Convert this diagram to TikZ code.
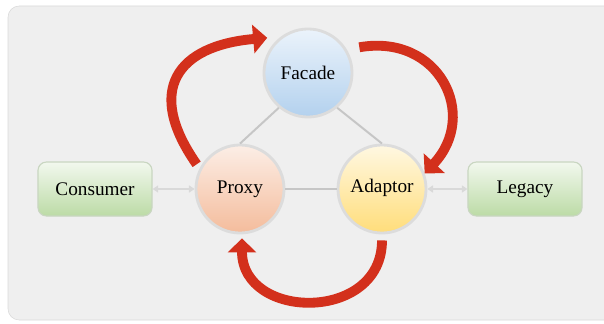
\documentclass[tikz,border=0pt]{standalone}
\usepackage{fontspec}
\setmainfont{Liberation Serif}
\usepackage{xcolor}
\usetikzlibrary{arrows.meta}

\definecolor{panel}{HTML}{EFEFEF}
\definecolor{panelrim}{HTML}{D9D9D9}
\definecolor{ring}{HTML}{DCDCDC}
\definecolor{redflow}{HTML}{D3301C}
\definecolor{greentop}{HTML}{F2F8EE}
\definecolor{greenbot}{HTML}{BCDBA6}
\definecolor{blockrim}{HTML}{C9D6C1}
\definecolor{bluetop}{HTML}{EBF3FB}
\definecolor{bluebot}{HTML}{B3D1EE}
\definecolor{peachtop}{HTML}{FCEEE6}
\definecolor{peachbot}{HTML}{F4BC9C}
\definecolor{suntop}{HTML}{FFF8E2}
\definecolor{sunbot}{HTML}{FFDD7A}

\begin{document}
\begin{tikzpicture}[
    x=0.025cm,
    y=0.025cm,
    font=\fontsize{13.7}{16}\selectfont,
    bubble/.style={
        circle,
        minimum size=2.2cm,
        inner sep=0pt,
        draw=ring,
        line width=2pt
    },
    block/.style={
        rounded corners=6pt,
        minimum width=2.85cm,
        minimum height=1.35cm,
        draw=blockrim,
        line width=0.8pt,
        top color=greentop,
        bottom color=greenbot
    },
    spoke/.style={
        draw=gray!45,
        line width=1.4pt
    },
    feed/.style={
        draw=gray!30,
        line width=1pt,
        {Triangle[length=4pt,width=5pt]}-{Triangle[length=4pt,width=5pt]}
    },
    turn/.style={
        draw=redflow,
        line width=7pt,
        -{Triangle[length=10pt,width=20pt]}
    }
]

\useasboundingbox (0,0) rectangle (604,323);
\draw[draw=panelrim, fill=panel, rounded corners=8pt] (8,3) rectangle (640,317);


\node[bubble, top color=bluetop, bottom color=bluebot] (facade) at (308,250) {Facade};
\node[bubble, top color=peachtop, bottom color=peachbot] (proxy) at (240,134) {Proxy};
\node[bubble, top color=suntop, bottom color=sunbot] (adaptor) at (382,134) {\raisebox{4pt}{Adaptor}};

\node[block] (consumer) at (95,134) {Consumer};
\node[block] (legacy) at (525,134) {Legacy};


\draw[spoke] (facade.230) -- (proxy.north);
\draw[spoke] (facade.310) -- (adaptor.north);
\draw[spoke] (proxy.east) -- (adaptor.west);

\draw[feed] (consumer.east) -- (proxy.west);
\draw[feed] (adaptor.east) -- (legacy.west);


\draw[turn] ([shift={(-4,2)}]proxy.150) to[out=125, in=185, looseness=1.6] ([shift={(-6,6)}]facade.140);
\draw[turn] ([shift={(12,3)}]facade.30) to[out=10, in=47, looseness=1.45] (adaptor.20);
\draw[turn] ([shift={(0,-6)}]adaptor.south) to[out=270, in=270, looseness=1.5] ([shift={(2,-4)}]proxy.south);

\end{tikzpicture}
\end{document}
